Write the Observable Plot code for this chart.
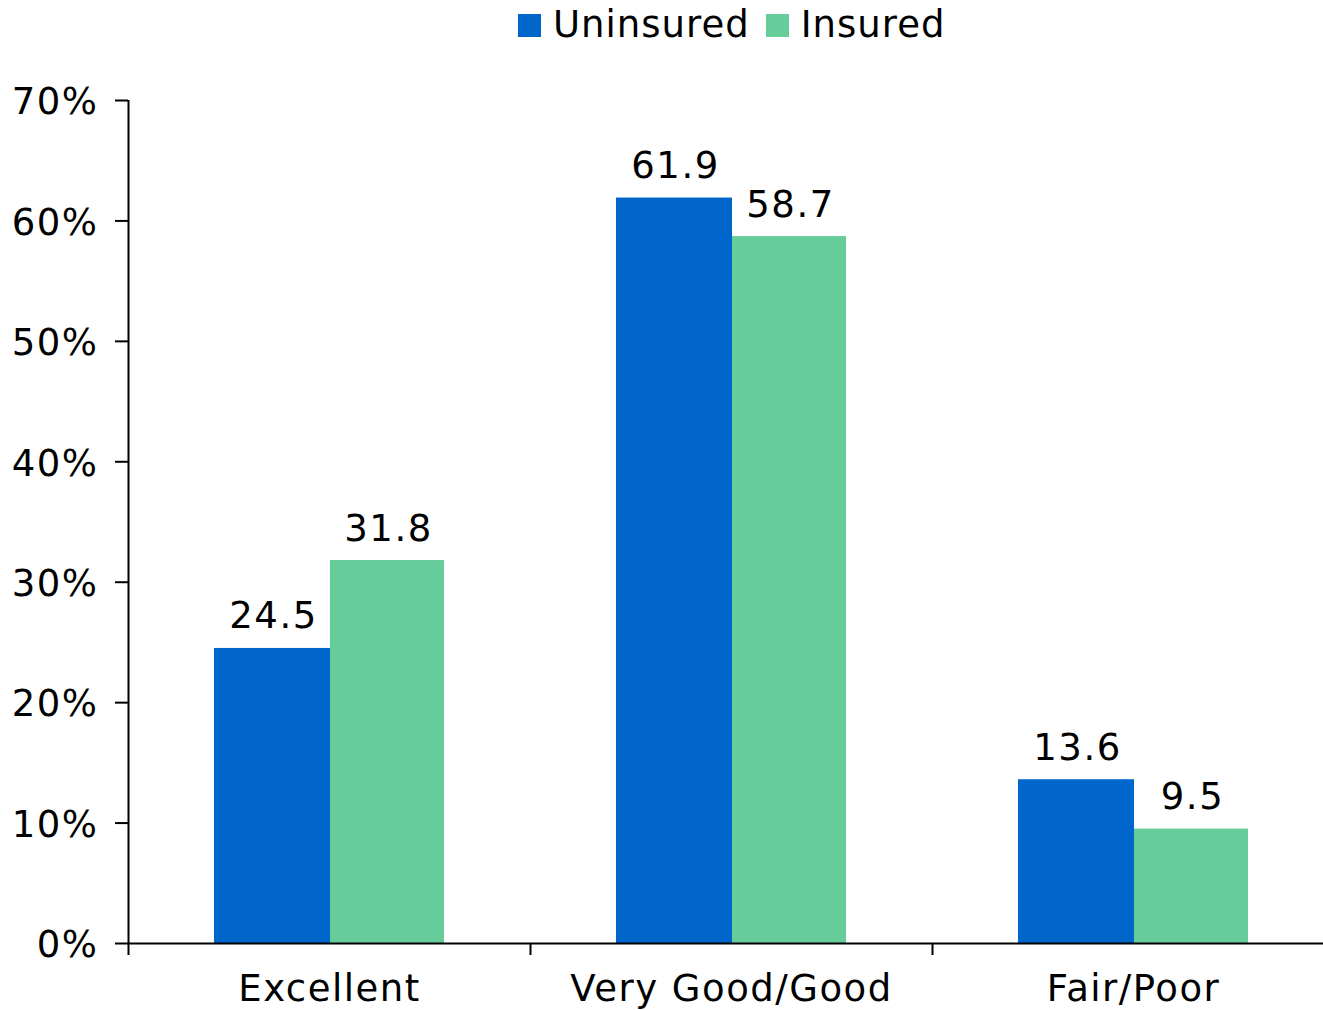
<!DOCTYPE html>
<html>
<head>
<meta charset="utf-8">
<script src="https://cdn.jsdelivr.net/npm/d3@7"></script>
<script src="https://cdn.jsdelivr.net/npm/@observablehq/plot@0.6"></script>
<style>
  html, body { margin: 0; padding: 0; background: #fff; }
  body { width: 1323px; height: 1010px; overflow: hidden; position: relative; font-family: "DejaVu Sans", Verdana, sans-serif; }
  #legend { position: absolute; left: 518px; top: 4px; display: flex; align-items: center; font-size: 37px; letter-spacing: 1px; color: #000; line-height: 42px; }
  #legend .sw { width: 23px; height: 23px; display: inline-block; margin-right: 12px; }
  #legend .item { display: flex; align-items: center; margin-right: 16px; }
  #chart { position: absolute; left: 0; top: 0; }
  #chart svg text { letter-spacing: 1.5px; }
</style>
</head>
<body>
<div id="chart"></div>
<div id="legend"></div>
<script>
const categories = ["Excellent", "Very Good/Good", "Fair/Poor"];
const seriesNames = ["Uninsured", "Insured"];
const uninsured = [24.5, 61.9, 13.6];
const insured = [31.8, 58.7, 9.5];
const yTicks = [0, 10, 20, 30, 40, 50, 60, 70];
const colors = ["#0066CC", "#66CC99"];

const rowsU = categories.map((c, i) => ({category: c, value: uninsured[i]}));
const rowsI = categories.map((c, i) => ({category: c, value: insured[i]}));

const font = "DejaVu Sans, Verdana, sans-serif";

const plot = Plot.plot({
  width: 1323,
  height: 1010,
  marginLeft: 128,
  marginRight: -11,
  marginTop: 100,
  marginBottom: 67,
  style: {fontFamily: font, fontSize: "37px", color: "#000", background: "transparent"},
  x: {domain: categories, padding: 0, label: null},
  y: {domain: [0, 70], label: null},
  marks: [
    Plot.barY(rowsU, {x: "category", y: "value", fill: colors[0], insetLeft: 86, insetRight: 200}),
    Plot.barY(rowsI, {x: "category", y: "value", fill: colors[1], insetLeft: 202, insetRight: 86}),
    Plot.text(rowsU, {x: "category", y: "value", text: d => d.value.toFixed(1), dx: -56, dy: -20, lineAnchor: "bottom", fontSize: 37, fill: "#000"}),
    Plot.text(rowsI, {x: "category", y: "value", text: d => d.value.toFixed(1), dx: 59, dy: -20, lineAnchor: "bottom", fontSize: 37, fill: "#000"}),
    Plot.axisY({ticks: yTicks, tickFormat: () => "", tickSize: 13, strokeWidth: 2, label: null}),
    Plot.axisY({ticks: yTicks, tickFormat: d => d + "%", tickSize: 0, tickPadding: 30, fontSize: 37, label: null, dy: 2}),
    Plot.axisX({tickSize: 0, tickPadding: 31, fontSize: 37, label: null}),
    Plot.ruleY([0], {stroke: "#000", strokeWidth: 2}),
    Plot.ruleX([categories[0]], {x: d => d, y1: 70, y2: 0, dx: -201, insetBottom: -12, stroke: "#000", strokeWidth: 2}),
    Plot.ruleX(categories.slice(1), {x: d => d, y1: 0, y2: 0, dx: -201, insetBottom: -12, stroke: "#000", strokeWidth: 2})
  ]
});
document.getElementById("chart").appendChild(plot);

const legend = document.getElementById("legend");
seriesNames.forEach((name, i) => {
  const item = document.createElement("span");
  item.className = "item";
  const sw = document.createElement("span");
  sw.className = "sw";
  sw.style.background = colors[i];
  item.appendChild(sw);
  item.appendChild(document.createTextNode(name));
  legend.appendChild(item);
});
</script>
</body>
</html>
